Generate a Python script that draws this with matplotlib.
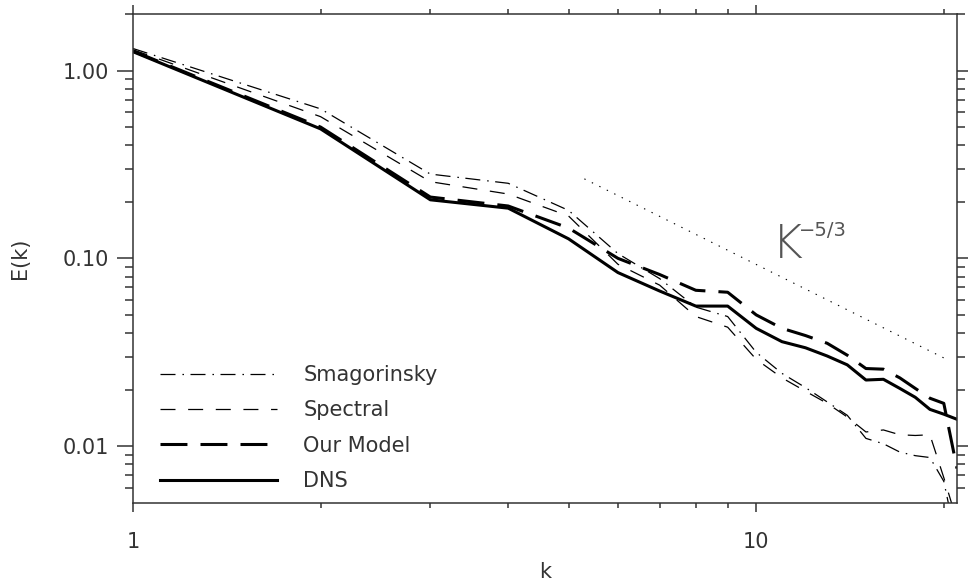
import matplotlib
matplotlib.use("Agg")
import matplotlib.pyplot as plt
from matplotlib.ticker import FixedLocator, FixedFormatter, NullFormatter

plt.rcParams['font.family'] = ['DejaVu Sans']
plt.rcParams['lines.scale_dashes'] = False

# ---- data ----
k = [1, 2, 3, 4, 5, 6, 7, 8, 9, 10, 11, 12, 13, 14, 15, 16, 17, 18, 19, 20, 21]
E_smag = [1.31, 0.625, 0.281, 0.251, 0.180, 0.106, 0.078, 0.055, 0.049, 0.0316, 0.0244,
          0.0205, 0.0172, 0.0146, 0.0110, 0.0103, 0.0093, 0.0089, 0.0087, 0.0065, 0.0030]
E_spec = [1.29, 0.568, 0.256, 0.220, 0.168, 0.093, 0.072, 0.049, 0.043, 0.029, 0.0231,
          0.0196, 0.0169, 0.0143, 0.0119, 0.0122, 0.0115, 0.0114, 0.0115, 0.0068, 0.0040]
E_model = [1.27, 0.500, 0.212, 0.190, 0.145, 0.100, 0.082, 0.0676, 0.066, 0.050, 0.0424,
           0.0388, 0.0353, 0.0305, 0.0259, 0.0257, 0.0231, 0.0203, 0.0180, 0.0169, 0.0076]
E_dns = [1.26, 0.489, 0.205, 0.185, 0.127, 0.084, 0.067, 0.0557, 0.0557, 0.0424, 0.0360,
         0.0334, 0.0302, 0.0271, 0.0225, 0.0227, 0.0203, 0.0182, 0.0157, 0.0148, 0.0139]
ref_k = [5.3, 20.0]
ref_E = [0.265, 0.0295]

labels = ['Smagorinsky', 'Spectral', 'Our Model', 'DNS']
xticks_major = [1, 10]
xtick_labels = ['1', '10']
xticks_minor = [2, 3, 4, 5, 6, 7, 8, 9, 20]
yticks_major = [0.01, 0.1, 1.0]
ytick_labels = ['0.01', '0.10', '1.00']
yticks_minor = [0.006, 0.007, 0.008, 0.009, 0.02, 0.03, 0.04, 0.05, 0.06, 0.07, 0.08, 0.09,
                0.2, 0.3, 0.4, 0.5, 0.6, 0.7, 0.8, 0.9, 2.0]

TXT = '#333333'
AX = '#333333'

fig = plt.figure(figsize=(9.68, 5.81), dpi=100)
ax = fig.add_axes([133/968, (581-502.7)/581, (957-133)/968, (502.7-14)/581])
ax.set_xscale('log')
ax.set_yscale('log')
ax.set_xlim(1, 21)
ax.set_ylim(0.005, 2.0)

ax.plot(k, E_smag, color='black', lw=0.9, dashes=(10.8, 5.0, 1.1, 4.7), label=labels[0])
ax.plot(k, E_spec, color='black', lw=0.9, dashes=(10.8, 9.1), label=labels[1])
ax.plot(k, E_model, color='black', lw=2.2, dashes=(19.4, 9.4), label=labels[2])
ax.plot(k, E_dns, color='black', lw=2.2, linestyle='-', label=labels[3])
ax.plot(ref_k, ref_E, color='black', lw=0.8, dashes=(1.0, 5.0))

# annotation K^-5/3
ax.text(10.6, 0.1004, 'K', fontsize=34, color='#555555', ha='left', va='baseline',
        fontweight='light')
ax.text(11.69, 0.1316, '\u22125/3', fontsize=14, color='#555555', ha='left', va='baseline')

# axes styling
for s in ax.spines.values():
    s.set_color(AX)
    s.set_linewidth(1.1)

ax.xaxis.set_major_locator(FixedLocator(xticks_major))
ax.xaxis.set_major_formatter(FixedFormatter(xtick_labels))
ax.xaxis.set_minor_locator(FixedLocator(xticks_minor))
ax.xaxis.set_minor_formatter(NullFormatter())
ax.yaxis.set_major_locator(FixedLocator(yticks_major))
ax.yaxis.set_major_formatter(FixedFormatter(ytick_labels))
ax.yaxis.set_minor_locator(FixedLocator(yticks_minor))
ax.yaxis.set_minor_formatter(NullFormatter())

ax.tick_params(axis='x', which='major', direction='out', length=6.8, width=1.1, color=AX,
               top=True, bottom=True, labelsize=15, labelcolor=TXT, pad=14)
ax.tick_params(axis='x', which='minor', direction='out', length=3.4, width=1.1, color=AX,
               top=True, bottom=True)
ax.tick_params(axis='y', which='major', direction='out', length=11.5, width=1.1, color=AX,
               left=True, right=True, labelsize=15, labelcolor=TXT, pad=6)
ax.tick_params(axis='y', which='minor', direction='out', length=6.0, width=1.1, color=AX,
               left=True, right=True)

ax.set_xlabel('k', fontsize=15, color=TXT)
ax.set_ylabel('E(k)', fontsize=15, color=TXT)
ax.xaxis.set_label_coords(0.5, -0.122)
ax.yaxis.set_label_coords(-0.125, 0.5)

leg = ax.legend(loc='upper left', bbox_to_anchor=(0.0328, 0.282), frameon=False,
                fontsize=15, handlelength=5.62, handletextpad=1.25, labelspacing=0.74,
                borderpad=0, borderaxespad=0)
for t in leg.get_texts():
    t.set_color(TXT)

fig.savefig('out.png', dpi=100)
